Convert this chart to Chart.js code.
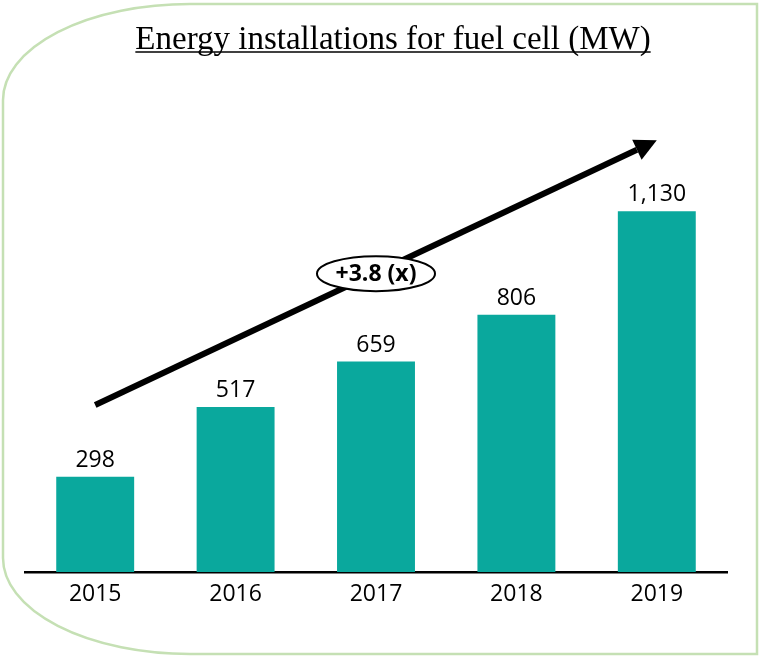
<!DOCTYPE html>
<html>
<head>
<meta charset="utf-8">
<script src="https://cdn.jsdelivr.net/npm/chart.js@4"></script>
<style>
  html, body { margin: 0; padding: 0; background: #fff; }
  #wrap { width: 759px; height: 657px; position: relative; }
</style>
</head>
<body>
<div id="wrap"><canvas id="fuelChart" width="759" height="657"></canvas></div>
<script>
// installed capacity per year, MW
const years = ['2015', '2016', '2017', '2018', '2019'];
const installedMW = [298, 517, 659, 806, 1130];

// growth arrow, in chart units: [category index, MW]
const arrowFrom = [0, 523];
const arrowTo = [4, 1352];
const growthLabel = '+3.8 (x)';

const chartTitle = 'Energy installations for fuel cell (MW)';

const barColor = '#0AA89D';
const frameColor = '#C5E0B4';

// frame with rounded left corners
const framePlugin = {
    id: 'frame',
    beforeDraw(chart) {
        const ctx = chart.ctx;
        const l = 3, t = 4, r = 757, b = 654, rx = 187, ry = 96;
        ctx.save();
        ctx.fillStyle = '#fff';
        ctx.fillRect(0, 0, chart.width, chart.height);
        ctx.beginPath();
        ctx.moveTo(r, t);
        ctx.lineTo(l + rx, t);
        ctx.ellipse(l + rx, t + ry, rx, ry, 0, -Math.PI / 2, -Math.PI, true);
        ctx.lineTo(l, b - ry);
        ctx.ellipse(l + rx, b - ry, rx, ry, 0, Math.PI, Math.PI / 2, true);
        ctx.lineTo(r, b);
        ctx.closePath();
        ctx.strokeStyle = frameColor;
        ctx.lineWidth = 2.5;
        ctx.stroke();
        ctx.restore();
    }
};

// underlined serif title
const titlePlugin = {
    id: 'underlinedTitle',
    afterDraw(chart) {
        const ctx = chart.ctx;
        ctx.save();
        ctx.font = '33px "Liberation Serif"';
        ctx.fillStyle = '#000';
        ctx.textAlign = 'center';
        ctx.textBaseline = 'alphabetic';
        const cx = 393, y = 49;
        ctx.fillText(chartTitle, cx, y);
        const w = ctx.measureText(chartTitle).width;
        ctx.beginPath();
        ctx.moveTo(cx - w / 2, y + 3);
        ctx.lineTo(cx + w / 2, y + 3);
        ctx.lineWidth = 1.5;
        ctx.strokeStyle = '#000';
        ctx.stroke();
        ctx.restore();
    }
};

// value above each bar
const valueLabels = {
    id: 'valueLabels',
    afterDatasetsDraw(chart) {
        const ctx = chart.ctx;
        const meta = chart.getDatasetMeta(0);
        ctx.save();
        ctx.font = '23px "Open Sans"';
        ctx.fillStyle = '#000';
        ctx.textAlign = 'center';
        ctx.textBaseline = 'alphabetic';
        meta.data.forEach((bar, i) => {
            ctx.fillText(installedMW[i].toLocaleString('en-US'), bar.x, bar.y - 10);
        });
        ctx.restore();
    }
};

// growth arrow with the oval badge at its middle
const growthArrow = {
    id: 'growthArrow',
    afterDatasetsDraw(chart) {
        const ctx = chart.ctx;
        const xs = chart.scales.x, ys = chart.scales.y;
        const x1 = xs.getPixelForValue(arrowFrom[0]), y1 = ys.getPixelForValue(arrowFrom[1]);
        const x2 = xs.getPixelForValue(arrowTo[0]), y2 = ys.getPixelForValue(arrowTo[1]);
        const ang = Math.atan2(y2 - y1, x2 - x1);
        const headLen = 22, headW = 11;
        const bx = x2 - headLen * Math.cos(ang), by = y2 - headLen * Math.sin(ang);

        ctx.save();
        ctx.strokeStyle = '#000';
        ctx.fillStyle = '#000';
        ctx.lineWidth = 6;
        ctx.beginPath();
        ctx.moveTo(x1, y1);
        ctx.lineTo(bx, by);
        ctx.stroke();

        ctx.beginPath();
        ctx.moveTo(x2, y2);
        ctx.lineTo(bx + headW * Math.sin(ang), by - headW * Math.cos(ang));
        ctx.lineTo(bx - headW * Math.sin(ang), by + headW * Math.cos(ang));
        ctx.closePath();
        ctx.fill();

        const mx = (x1 + x2) / 2, my = (y1 + y2) / 2 + 1;
        ctx.beginPath();
        ctx.ellipse(mx, my, 59, 17.5, 0, 0, Math.PI * 2);
        ctx.fillStyle = '#fff';
        ctx.fill();
        ctx.lineWidth = 2;
        ctx.stroke();

        ctx.fillStyle = '#000';
        ctx.font = 'bold 23px "Open Sans"';
        ctx.textAlign = 'center';
        ctx.textBaseline = 'middle';
        ctx.fillText(growthLabel, mx, my + 1);
        ctx.restore();
    }
};

new Chart(document.getElementById('fuelChart'), {
    type: 'bar',
    data: {
        labels: years,
        datasets: [{
            data: installedMW,
            backgroundColor: barColor,
            borderWidth: 0,
            categoryPercentage: 1,
            barPercentage: 0.555
        }]
    },
    options: {
        responsive: false,
        animation: false,
        events: [],
        layout: { padding: { left: 25, right: 32, top: 125, bottom: 0 } },
        plugins: {
            legend: { display: false },
            tooltip: { enabled: false },
            title: { display: false }
        },
        scales: {
            x: {
                grid: { display: false, drawTicks: false },
                border: { display: true, color: '#000', width: 2.5 },
                ticks: {
                    color: '#000',
                    padding: 9,
                    font: { family: '"Open Sans"', size: 23 }
                },
                afterFit(scale) { scale.height = 85; }
            },
            y: {
                display: false,
                min: 0,
                max: 1400
            }
        }
    },
    plugins: [framePlugin, titlePlugin, valueLabels, growthArrow]
});
</script>
</body>
</html>
